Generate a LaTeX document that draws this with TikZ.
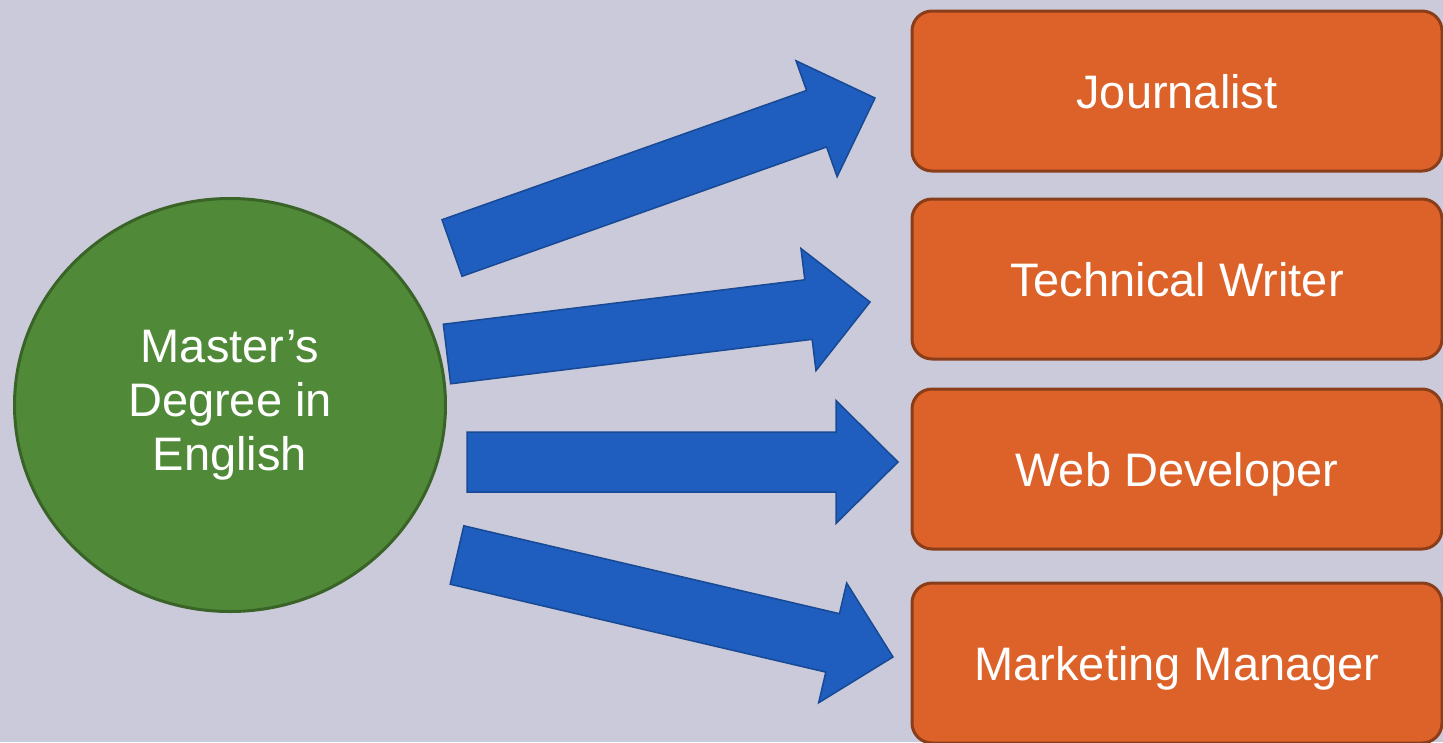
\documentclass[tikz,border=0pt]{standalone}
\usepackage{fontspec}
\setmainfont{Liberation Sans}
\usepackage{tikz}
\usetikzlibrary{shapes.geometric}
\usetikzlibrary{positioning}
\usetikzlibrary{calc}
\definecolor{slide}{RGB}{203,202,218}
\definecolor{green}{RGB}{80,138,56}
\definecolor{orange}{RGB}{221,98,41}
\definecolor{blue}{RGB}{31,94,190}

\tikzset{
  degree/.style={ellipse, draw=green!72!black, line width=3pt, fill=green,
    minimum width=431pt, minimum height=413pt, inner sep=0pt,
    text=white, align=center, font=\fontsize{47pt}{54pt}\selectfont},
  job/.style={rectangle, rounded corners=20pt, draw=orange!62!black,
    line width=3pt, fill=orange, minimum width=530pt, minimum height=160pt,
    text=white, text height=34pt, text depth=0pt,
    font=\fontsize{47pt}{54pt}\selectfont},
  bluearrow/.style={fill=blue, draw=blue!78!black, line width=1.5pt}
}

\begin{document}
\begin{tikzpicture}[x=1pt,y=-1pt]

%---------------------------------------
% Shared sizes of the block arrows
%---------------------------------------
\def\shaft{30pt}   % half width of the shaft
\def\headw{61.5pt} % half width of the head
\def\headl{62pt}   % length of the head

% block arrow from #1 (tail centre) to #2 (tip)
\def\blockarrow#1#2{%
  \coordinate (#1-j) at ($(#2)!\headl!(#1)$);
  \filldraw[bluearrow]
    ($(#1)!\shaft!90:(#2)$)
    -- ($(#1-j)!\shaft!90:(#2)$)
    -- ($(#1-j)!\headw!90:(#2)$)
    -- (#2)
    -- ($(#1-j)!\headw!-90:(#2)$)
    -- ($(#1-j)!\shaft!-90:(#2)$)
    -- ($(#1)!\shaft!-90:(#2)$)
    -- cycle;
}

\useasboundingbox (0,0) rectangle (1443,742);
\fill[slide] (0,0) rectangle (1443,742);

%====================================================
% Degree
%====================================================
\node[degree] (master) at (230,405) {Master’s\\Degree in\\English};

%====================================================
% Jobs
%====================================================
\node[job, anchor=west] (journalist) at (910.5,91) {Journalist};
\node[job, below=25pt of journalist] (writer) {Technical Writer};
\node[job, below=27pt of writer] (web) {Web Developer};
\node[job, below=31pt of web] (marketing) {Marketing Manager};

% Arrow ends
\coordinate (journalist-from) at (452,248);
\coordinate (journalist-to)   at (875,98);
\coordinate (writer-from)     at (447,354);
\coordinate (writer-to)       at (870,302);
\coordinate (web-from)        at (467,462);
\coordinate (web-to)          at (898,462);
\coordinate (marketing-from)  at (457,555);
\coordinate (marketing-to)    at (893,657);

% Arrows
\foreach \job in {journalist,writer,web,marketing}
  \blockarrow{\job-from}{\job-to};

\end{tikzpicture}
\end{document}
